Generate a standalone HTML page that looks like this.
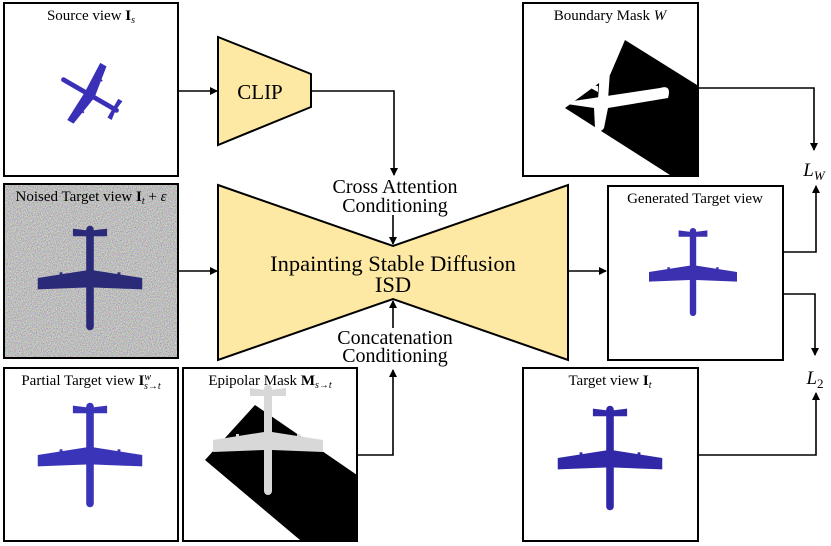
<!DOCTYPE html>
<html><head><meta charset="utf-8"><style>
html,body{margin:0;padding:0;background:#fff;}
svg{display:block;font-family:"Liberation Serif",serif;}
</style></head><body>
<svg width="831" height="546" viewBox="0 0 831 546" xmlns="http://www.w3.org/2000/svg">
<defs>
<marker id="a" markerWidth="8" markerHeight="8" refX="7" refY="4" orient="auto" markerUnits="userSpaceOnUse"><path d="M0,0 L8,4 L0,8 Z" fill="#000"/></marker>
<filter id="n" x="0" y="0" width="100%" height="100%"><feTurbulence type="fractalNoise" baseFrequency="1.2" numOctaves="1" seed="5"/><feColorMatrix type="saturate" values="1.0"/><feComponentTransfer><feFuncR type="linear" slope="1.3" intercept="-0.13"/><feFuncG type="linear" slope="1.3" intercept="-0.13"/><feFuncB type="linear" slope="1.3" intercept="-0.13"/><feFuncA type="linear" slope="0" intercept="1"/></feComponentTransfer></filter>
<g id="pl">
<rect x="-4" y="-55" width="8" height="110" rx="4"/>
<path d="M-55,0 L-4,-8 L4,-8 L55,0 L55,12 L4,10 L-4,10 L-55,12 Z"/>
<path d="M-18,-52 L-2,-50 L2,-50 L18,-52 L18,-44 L-18,-44 Z"/>
<rect x="-32" y="-6" width="3" height="12"/><rect x="29" y="-6" width="3" height="12"/>
</g>
</defs>
<rect x="5" y="185" width="172" height="172" filter="url(#n)"/>
<g fill="none" stroke="#000" stroke-width="2">
<rect x="4" y="3" width="174" height="173"/>
<rect x="4" y="184" width="174" height="174"/>
<rect x="4" y="368" width="174" height="173"/>
<rect x="183" y="368" width="174" height="173"/>
<rect x="523" y="3" width="175" height="173"/>
<rect x="608" y="186" width="175" height="174"/>
<rect x="523" y="368" width="175" height="173"/>
</g>
<!-- masks -->
<path d="M205,460 L255,405 L357,475 L357,540 L300,540 Z" fill="#000"/>
<path d="M625,40 L697,85 L697,175 L670,175 L565,108 L610,75 Z" fill="#000"/>
<g fill="#fff"><path d="M560,103 L660,88 Q672,84 668,98 L608,108 L604,128 Q600,134 595,128 L594,108 Z"/><path d="M598,100 L602,40 L612,42 L608,100 Z"/><path d="M587,50 L600,52 L600,60 Z"/><path d="M583,84 L598,86 L598,92 Z"/></g>
<!-- planes -->
<use href="#pl" transform="translate(90,278) scale(0.95)" fill="#2b2a78"/>
<use href="#pl" transform="translate(90,455) scale(0.95)" fill="#3a35b8"/>
<use href="#pl" transform="translate(610,458) scale(0.95)" fill="#3128a8"/>
<use href="#pl" transform="translate(693,272) scale(0.8)" fill="#3a30b0"/>
<use href="#pl" transform="translate(90,95) rotate(120) scale(0.6)" fill="#3a30b8"/>
<use href="#pl" transform="translate(268,440) scale(1.0)" fill="#d8d8d8"/>
<!-- CLIP -->
<polygon points="218,37 311,74 311,107 218,145" fill="#fde9a3" stroke="#000" stroke-width="2"/>
<text x="260" y="99" font-size="21" text-anchor="middle">CLIP</text>
<!-- ISD -->
<polygon points="218,185 393,246 568,185 568,360 393,299 218,360" fill="#fde9a3" stroke="#000" stroke-width="2"/>
<text x="393" y="271" font-size="22.5" text-anchor="middle">Inpainting Stable Diffusion</text>
<text x="393" y="292" font-size="22.5" text-anchor="middle">ISD</text>
<text x="395" y="193" font-size="20" text-anchor="middle">Cross Attention</text>
<text x="395" y="212" font-size="20" text-anchor="middle">Conditioning</text>
<text x="395" y="344" font-size="20" text-anchor="middle">Concatenation</text>
<text x="395" y="362" font-size="20" text-anchor="middle">Conditioning</text>
<!-- connectors -->
<g fill="none" stroke="#000" stroke-width="1.6">
<path d="M178,91 H217" marker-end="url(#a)"/>
<path d="M311,91 H394 V175" marker-end="url(#a)"/>
<path d="M393,215 V244" marker-end="url(#a)"/>
<path d="M178,271 H217" marker-end="url(#a)"/>
<path d="M357,455 H393 V370" marker-end="url(#a)"/>
<path d="M393,328 V301" marker-end="url(#a)"/>
<path d="M568,271 H606" marker-end="url(#a)"/>
<path d="M698,88 H814 V150" marker-end="url(#a)"/>
<path d="M783,252 H816 V186" marker-end="url(#a)"/>
<path d="M783,294 H815 V355" marker-end="url(#a)"/>
<path d="M698,455 H816 V393" marker-end="url(#a)"/>
</g>
<!-- labels -->
<g font-size="15" text-anchor="middle">
<text x="91" y="20">Source view <tspan font-weight="bold">I</tspan><tspan font-style="italic" font-size="10" dy="3">s</tspan></text>
<text x="91" y="201">Noised Target view <tspan font-weight="bold">I</tspan><tspan font-style="italic" font-size="10" dy="3">t</tspan><tspan dy="-3"> + </tspan><tspan font-style="italic">ε</tspan></text>
<text x="91" y="385">Partial Target view <tspan font-weight="bold">I</tspan><tspan font-style="italic" font-size="10" dy="-5">w</tspan><tspan font-style="italic" font-size="10" dx="-7" dy="9">s→t</tspan></text>
<text x="270" y="385">Epipolar Mask <tspan font-weight="bold">M</tspan><tspan font-style="italic" font-size="10" dy="3">s→t</tspan></text>
<text x="610" y="20">Boundary Mask <tspan font-style="italic">W</tspan></text>
<text x="695" y="203">Generated Target view</text>
<text x="610" y="385">Target view <tspan font-weight="bold">I</tspan><tspan font-style="italic" font-size="10" dy="3">t</tspan></text>
</g>
<text x="814" y="176" font-size="19" font-style="italic" text-anchor="middle">L<tspan font-size="13" dy="4">W</tspan></text>
<text x="815" y="384" font-size="19" font-style="italic" text-anchor="middle">L<tspan font-size="13" font-style="normal" dy="4">2</tspan></text>
</svg>
</body></html>
